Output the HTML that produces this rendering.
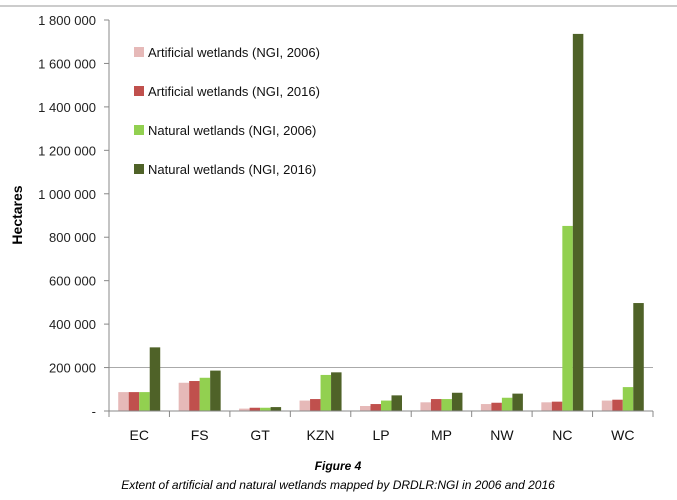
<!DOCTYPE html>
<html><head><meta charset="utf-8"><style>
body{margin:0;background:#fff;font-family:"Liberation Sans",sans-serif}
svg text{font-family:"Liberation Sans",sans-serif}
</style></head><body>
<svg width="677" height="495" id="c">
<line x1="0" y1="6" x2="677" y2="6" stroke="#bbb" stroke-width="1.5"/>
<text x="0" y="0" transform="translate(22,215) rotate(-90)" text-anchor="middle" font-size="14" font-weight="bold">Hectares</text>
<text x="338" y="470" text-anchor="middle" font-size="12" font-weight="bold" font-style="italic">Figure 4</text>
<text x="338" y="489" text-anchor="middle" font-size="12" font-style="italic">Extent of artificial and natural wetlands mapped by DRDLR:NGI in 2006 and 2016</text>
</svg>
<script>
const categories=["EC","FS","GT","KZN","LP","MP","NW","NC","WC"];
const art2006=[87000,130000,11000,48000,23000,40000,32000,40000,48000];
const art2016=[87000,138000,15000,55000,32000,55000,38000,43000,52000];
const nat2006=[87000,153000,15000,166000,48000,55000,61000,852000,110000];
const nat2016=[293000,186000,18000,178000,72000,84000,80000,1736000,497000];
const yTicks=[0,200000,400000,600000,800000,1000000,1200000,1400000,1600000,1800000];
const seriesNames=["Artificial wetlands (NGI, 2006)","Artificial wetlands (NGI, 2016)","Natural wetlands (NGI, 2006)","Natural wetlands (NGI, 2016)"];
const series=[art2006,art2016,nat2006,nat2016];
const colors=["#e6b9b8","#c0504d","#92d050","#4f6228"];
const NS="http://www.w3.org/2000/svg",svg=document.getElementById('c');
const x0=109,x1=653,y0=411,y1=20,yMax=1800000;
const cw=(x1-x0)/categories.length;
const y=v=>y0-(v/yMax)*(y0-y1);
function mk(t,a){const e=document.createElementNS(NS,t);for(const k in a)e.setAttribute(k,a[k]);svg.appendChild(e);return e;}
let g=mk('line',{x1:x0,x2:x1,y1:y(200000),y2:y(200000),stroke:'#aaa','stroke-width':1});


yTicks.forEach(t=>{
 const l=mk('line',{x1:x0-5,x2:x0,y1:y(t),y2:y(t),stroke:'#888'});
 
 
 const tx=mk('text',{x:x0-13,y:y(t)+5,'text-anchor':'end','font-size':13,fill:'#222'});
 tx.textContent=t===0?'-':t.toLocaleString('en-US').replace(/,/g,' ');
 
 
});
const bw=10.5;
categories.forEach((c,i)=>{
 const cx=x0+cw*(i+0.5);
 series.forEach((s,j)=>{
  const r=mk('rect',{x:cx-2*bw+j*bw,y:y(s[i]),width:bw,height:y0-y(s[i]),fill:colors[j]});
  
  
 });
 const tx=mk('text',{x:cx,y:y0+29,'text-anchor':'middle','font-size':14,fill:'#111'});
 tx.textContent=c;
 
 
});
for(let i=0;i<=categories.length;i++){
 const l=mk('line',{x1:x0+cw*i,x2:x0+cw*i,y1:y0,y2:y0+6,stroke:'#888'});
 
 
}
let ax=mk('line',{x1:x0,x2:x0,y1:y1,y2:y0,stroke:'#888'});


ax=mk('line',{x1:x0,x2:x1,y1:y0,y2:y0,stroke:'#888'});


seriesNames.forEach((n,j)=>{
 const ly=52+j*39;
 const r=mk('rect',{x:134,y:ly-5,width:10,height:10,fill:colors[j]});
 
 
 const t=mk('text',{x:148,y:ly+5,'font-size':13,fill:'#111'});
 t.textContent=n;
 
 
});
</script>
</body></html>
